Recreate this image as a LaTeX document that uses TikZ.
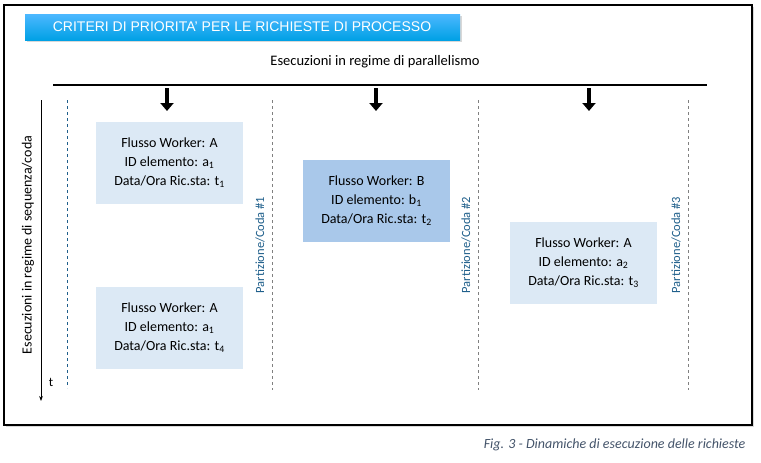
\documentclass[tikz,border=0pt]{standalone}
\usepackage{fontspec}
\setmainfont{Carlito}
\newfontfamily\titlefont{Liberation Sans}
\usetikzlibrary{shadows,arrows.meta}
\definecolor{lightbox}{HTML}{DCE9F5}
\definecolor{darkbox}{HTML}{A9C8EA}
\definecolor{partblue}{HTML}{1F5F8B}
\definecolor{capgray}{HTML}{44546A}
\tikzset{
  flowbox/.style={fill=lightbox, minimum width=147pt, minimum height=82pt, align=center, font=\fontsize{14}{19}\selectfont},
  partline/.style={dashed, draw=partblue, line width=0.6pt},
  partlabel/.style={rotate=90, text=partblue, font=\fontsize{12.5}{14}\selectfont},
  bigdown/.style={-{Triangle[length=8pt,width=13pt]}, line width=4pt},
}
\begin{document}
\begin{tikzpicture}[x=1pt,y=-1pt]
  \useasboundingbox (0,0) rectangle (761,463);
  % frame and title
  \draw [line width=1.8pt, drop shadow={shadow xshift=2pt,shadow yshift=-2pt,opacity=0.3}, fill=white] (4,5) rectangle (752,425);
  \shade [top color=cyan!60!blue!70, bottom color=cyan!70!blue!90!black, drop shadow={opacity=0.3}] (25,14) rectangle (460,40);
  \node (title) at (242,27) {\titlefont\fontsize{14}{16}\selectfont\color{white}CRITERI DI PRIORITA’ PER LE RICHIESTE DI PROCESSO};
  \node (par) at (375,62) {\fontsize{14.5}{17}\selectfont Esecuzioni in regime di parallelismo};
  % parallel axis
  \coordinate (h1) at (53,85);
  \coordinate (h2) at (707,85);
  \draw [line width=1.8pt] (h1) -- (h2);
  \foreach \x/\n in {167/a, 376/b, 589/c} {
    \coordinate (t\n) at (\x,88);
    \coordinate (b\n) at (\x,111);
    \draw [bigdown] (t\n) -- (b\n);
  }
  % time axis
  \coordinate (v1) at (41,100);
  \coordinate (v2) at (41,401);
  \draw [-{Stealth[length=5pt]}, line width=1pt] (v1) -- (v2);
  \node (seq) [rotate=90, font=\fontsize{14}{16}\selectfont] at (28,245) {Esecuzioni in regime di sequenza/coda};
  \node (t) at (51,382) {\fontsize{13}{15}\selectfont t};
  % partitions
  \coordinate (d0a) at (67,100); \coordinate (d0b) at (67,388);
  \draw [partline] (d0a) -- (d0b);
  \foreach \x/\n in {272/1, 478/2, 688/3} {
    \coordinate (p\n a) at (\x,100);
    \coordinate (p\n b) at (\x,390);
    \draw [partline, draw=gray] (p\n a) -- (p\n b);
    \node (lab\n) [partlabel] at (\x-12,245) {Partizione/Coda \#\n};
  }
  % requests
  \node (r1) [flowbox] at (169.5,163) {Flusso Worker: A\\ID elemento: a\textsubscript{1}\\Data/Ora Ric.sta: t\textsubscript{1}};
  \node (r2) [flowbox, fill=darkbox] at (376.5,201) {Flusso Worker: B\\ID elemento: b\textsubscript{1}\\Data/Ora Ric.sta: t\textsubscript{2}};
  \node (r3) [flowbox] at (583.5,263) {Flusso Worker: A\\ID elemento: a\textsubscript{2}\\Data/Ora Ric.sta: t\textsubscript{3}};
  \node (r4) [flowbox] at (169.5,327.5) {Flusso Worker: A\\ID elemento: a\textsubscript{1}\\Data/Ora Ric.sta: t\textsubscript{4}};
  % caption
  \node (cap) [anchor=east, text=capgray] at (749,445) {\fontsize{14}{16}\selectfont\itshape Fig. 3 - Dinamiche di esecuzione delle richieste};
\end{tikzpicture}
\end{document}
